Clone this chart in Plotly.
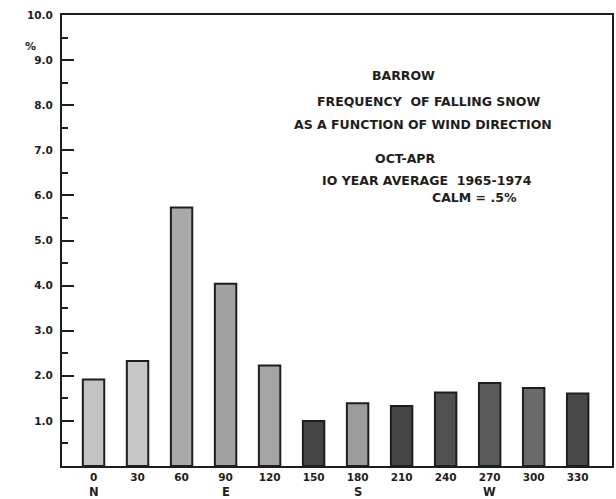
import plotly.graph_objects as go

directions = [0, 30, 60, 90, 120, 150, 180, 210, 240, 270, 300, 330]
frequency = [1.92, 2.33, 5.73, 4.04, 2.23, 1.0, 1.39, 1.33, 1.63, 1.84, 1.73, 1.61]
bar_colors = ["#c2c2c2", "#c6c6c6", "#a9a9a9", "#a2a2a2", "#a4a4a4", "#444444",
              "#9c9c9c", "#454545", "#505050", "#5a5a5a", "#6a6a6a", "#484848"]
compass_pos = [0, 90, 180, 270]
compass_txt = ["N", "E", "S", "W"]
ytick_vals = [1, 2, 3, 4, 5, 6, 7, 8, 9, 10]
title_lines = [
    ("BARROW", 405, 75),
    ("FREQUENCY  OF FALLING SNOW", 430, 102),
    ("AS A FUNCTION OF WIND DIRECTION", 424, 124),
    ("OCT-APR", 407, 158),
    ("IO YEAR AVERAGE  1965-1974", 428, 180),
    ("CALM = .5%", 476, 197),
]

INK = "#1e1e1e"
FONT = "DejaVu Sans"

fig = go.Figure()
fig.add_trace(go.Bar(
    x=directions, y=frequency, width=14.6,
    marker=dict(color=bar_colors, line=dict(color=INK, width=2)),
    showlegend=False,
))

W, H = 616, 499
L, R, T, B = 62, 2, 15, 33

fig.update_layout(
    width=W, height=H,
    margin=dict(l=L, r=R, t=T, b=B),
    paper_bgcolor="white", plot_bgcolor="white",
    font=dict(family=FONT, color=INK, size=10),
    xaxis=dict(
        range=[-21.5, 353.4], tickvals=directions,
        ticktext=[str(d) for d in directions],
        showgrid=False, zeroline=False, ticks="",
        showline=True, linecolor=INK, linewidth=2, mirror=True,
        tickfont=dict(family=FONT, size=10.5, weight="bold"),
    ),
    yaxis=dict(
        range=[0, 10], tickvals=ytick_vals,
        ticktext=[f"{v:.1f}" for v in ytick_vals],
        showgrid=False, zeroline=False,
        ticks="inside", ticklen=12, tickwidth=2, tickcolor=INK,
        ticklabelstandoff=5,
        minor=dict(dtick=0.5, ticks="inside", ticklen=6, tickwidth=2, tickcolor=INK, showgrid=False),
        showline=True, linecolor=INK, linewidth=2, mirror=True,
        tickfont=dict(family=FONT, size=10.5, weight="bold"),
    ),
)

def px_to_paper_x(px):
    return (px - L) / (W - L - R)

def px_to_paper_y(py):
    return 1 - (py - T) / (H - T - B)

for pos, txt in zip(compass_pos, compass_txt):
    fig.add_annotation(x=pos, y=px_to_paper_y(492), xref="x", yref="paper",
                       xanchor="center", yanchor="middle",
                       text=txt, showarrow=False,
                       font=dict(family=FONT, size=11.5, weight="bold", color=INK))

fig.add_annotation(x=px_to_paper_x(30), y=px_to_paper_y(47), xref="paper", yref="paper",
                   xanchor="center", yanchor="middle",
                   text="%", showarrow=False,
                   font=dict(family=FONT, size=11, weight="bold", color=INK))

for txt, cx, cy in title_lines:
    fig.add_annotation(x=px_to_paper_x(cx), y=px_to_paper_y(cy), xref="paper", yref="paper",
                       xanchor="center", yanchor="middle",
                       text=txt, showarrow=False,
                       font=dict(family=FONT, size=12.5, weight="bold", color=INK))

fig.write_html("out.html")
